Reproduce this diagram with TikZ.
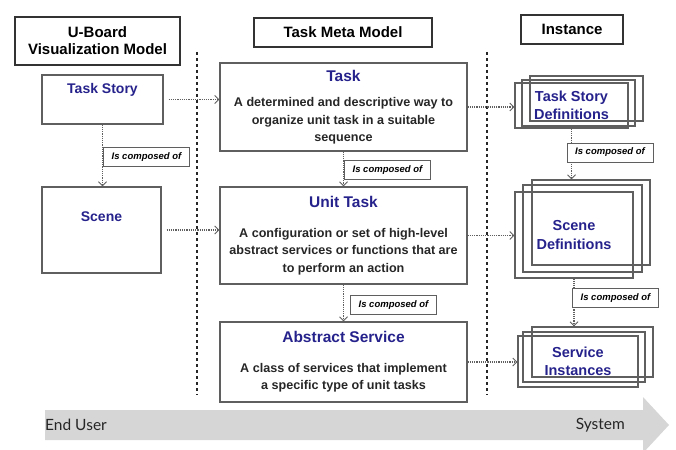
\documentclass[tikz,border=0pt]{standalone}
\usepackage{fontspec}
\setmainfont{Liberation Sans}
\newfontfamily\gillfont{Lato}
\usepackage{tikz}
\usetikzlibrary{positioning}
\usetikzlibrary{arrows.meta}
\definecolor{ttlblue}{RGB}{38,34,140}
\definecolor{linegray}{RGB}{95,95,95}
\definecolor{bandgray}{RGB}{214,214,214}

\begin{document}
\begin{tikzpicture}
		[x=1pt, y=-1pt,
		hdr/.style={draw=black!80, line width=1.1pt, inner sep=0pt, align=center, font=\fontsize{15}{17}\selectfont\bfseries},
		box/.style={draw=linegray, line width=1.1pt, inner sep=0pt, align=center},
		desc/.style={box, font=\fontsize{12.6}{17.5}\selectfont\bfseries\color{black!85}},
		ttl/.style={text=ttlblue, font=\fontsize{14}{18}\selectfont\bfseries},
		inst/.style={box, text=ttlblue, font=\fontsize{14.5}{18.5}\selectfont\bfseries},
		lbl/.style={draw=linegray, line width=0.9pt, fill=white, inner sep=0pt, minimum height=19pt, minimum width=86pt, font=\fontsize{9.5}{11}\selectfont\bfseries\itshape},
		flow/.style={draw=linegray, densely dotted, line width=1.2pt, -{Straight Barb[length=4pt, width=8pt, line width=1pt]}},
		sep/.style={draw=black!85, dashed, line width=1.3pt}]
		\useasboundingbox (0,0) rectangle (676,449);

		\node[hdr, minimum width=165pt, minimum height=48pt] (hdrleft) at (97.5,41) {U-Board\\Visualization Model};
		\node[hdr, minimum width=178pt, minimum height=29pt] (hdrmeta) at (343,32.5) {Task Meta Model};
		\node[hdr, minimum width=102pt, minimum height=29pt] (hdrinst) at (572,29.5) {Instance};

		\node[box, minimum width=121pt, minimum height=49pt] (ts) at (102.5,99.5) {};
		\node[ttl, below=5pt of ts.north] (tstitle) {Task Story};
		\node[box, minimum width=119pt, minimum height=86pt] (sc) at (101.5,230) {};
		\node[ttl, below=22pt of sc.north] (sctitle) {Scene};

		\node[desc, minimum width=247pt, minimum height=88pt] (task) at (343.5,107)
			{{\color{ttlblue}\fontsize{15.5}{17}\selectfont Task}\\[8pt]A determined and descriptive way to\\organize unit task in a suitable\\sequence};
		\node[desc, minimum width=247pt, minimum height=97pt] (ut) at (343.5,235.5)
			{{\color{ttlblue}\fontsize{15.5}{17}\selectfont Unit Task}\\[12pt]A configuration or set of high-level\\abstract services or functions that are\\to perform an action};
		\node[desc, minimum width=247pt, minimum height=80pt] (as) at (343.5,362)
			{{\color{ttlblue}\fontsize{15.5}{17}\selectfont Abstract Service}\\[12pt]A class of services that implement\\a specific type of unit tasks};

		\node[box, minimum width=113pt, minimum height=45pt] (tsd3) at (586.5,98.5) {};
		\node[box, minimum width=113pt, minimum height=46pt] (tsd2) at (578.5,103) {};
		\node[inst, minimum width=113pt, minimum height=45pt] (tsd) at (571.5,105.5) {Task Story\\Definitions};
		\node[box, minimum width=118pt, minimum height=85pt] (sd3) at (591,222.5) {};
		\node[box, minimum width=119pt, minimum height=87pt] (sd2) at (582.5,228.5) {};
		\node[inst, minimum width=118pt, minimum height=86pt] (sd) at (574,235) {Scene\\Definitions};
		\node[box, minimum width=121pt, minimum height=50pt] (si3) at (592.5,352) {};
		\node[box, minimum width=122pt, minimum height=50pt] (si2) at (584,357) {};
		\node[inst, minimum width=120pt, minimum height=51pt] (si) at (578,361.5) {Service\\Instances};

		\coordinate (sepla) at (197,52);
		\coordinate (seplb) at (197,395);
		\coordinate (sepra) at (487,52);
		\coordinate (seprb) at (487,395);
		\draw[sep] (sepla) -- (seplb);
		\draw[sep] (sepra) -- (seprb);

		\draw[flow, shorten <=5pt] (ts.east) -- (ts.east -| task.west);
		\draw[flow] (task.east) -- (task.east -| tsd.west);
		\draw[flow, shorten <=5pt] (sc.east) -- (sc.east -| ut.west);
		\draw[flow] (ut.east) -- (ut.east -| sd.west);
		\draw[flow] (as.east) -- (as.east -| si.west);

		\draw[flow] (ts.south) -- (ts.south |- sc.north);
		\draw[flow] (task.south) -- (ut.north);
		\draw[flow] (ut.south) -- (as.north);
		\draw[flow] (tsd.south) -- (tsd.south |- sd3.north);
		\draw[flow] (sd.south) -- (sd.south |- si3.north);

		\node[lbl] (lblleft) at (146.5,157) {Is composed of};
		\node[lbl] (lbltask) at (387.5,170) {Is composed of};
		\node[lbl] (lblut) at (393.5,305) {Is composed of};
		\node[lbl] (lbltsd) at (610,152.5) {Is composed of};
		\node[lbl] (lblsd) at (615.5,298) {Is composed of};

		\fill[bandgray] (45,410) -- (643,410) -- (643,397) -- (669,425) -- (643,453) -- (643,440) -- (45,440) -- cycle;
		\node[font=\gillfont\fontsize{15.5}{17}\selectfont, text=black!85, anchor=west, inner sep=0pt] (enduser) at (45,425) {End User};
		\node[font=\gillfont\fontsize{15.5}{17}\selectfont, text=black!85, anchor=east, inner sep=0pt] (system) at (625,425) {System};
	\end{tikzpicture}
\end{document}
